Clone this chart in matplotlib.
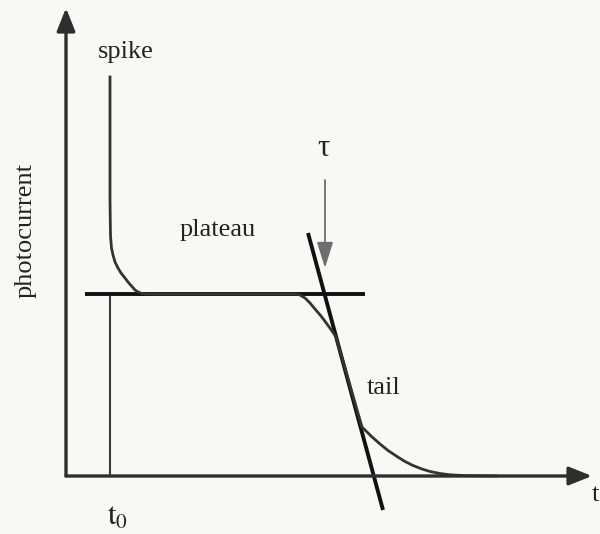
import matplotlib
matplotlib.use("Agg")
import matplotlib.pyplot as plt

plt.rcParams['font.family'] = ['Liberation Serif', 'DejaVu Serif']
plt.rcParams['mathtext.fontset'] = 'stix'

# photocurrent trace: spike at t0, plateau, knee, tail (time, current)
trace_t = [44, 44, 44.5, 45.5, 47, 49, 52, 55, 59, 62, 66, 69, 72, 76, 82,
           229, 234, 239, 244, 249, 255, 261, 266, 270,
           296, 305, 314, 322, 331, 339, 347, 356, 364, 374, 384, 400, 430]
trace_i = [399, 276, 240, 228, 221, 214, 208, 203, 198, 194, 189.5, 186, 184,
           182.5, 182,
           182, 181, 178, 173, 167, 160, 152, 145, 139,
           49, 40, 32, 25.5, 19.5, 14.5, 10.5, 7, 4.5, 2.5, 1.2, 0.3, 0]

t0 = 44
plateau_level = 182
plateau_span = [19, 299]

# tangent through the falling edge
tangent_t = [242, 317]
tangent_i = [243, -34]

# tau marker arrow (start, tip)
tau_t = [259, 259]
tau_i = [296, 208]

axis_len_t = 526
axis_len_i = 468

fig = plt.figure(figsize=(6, 5.34), dpi=100, facecolor='#f8f8f4')
ax = fig.add_axes([0, 0, 1, 1])
ax.set_facecolor('#f8f8f4')
ax.set_xlim(-66, 534)
ax.set_ylim(-58, 476)
ax.axis('off')

# axes with arrowheads
arrow_kw = dict(arrowstyle='-|>,head_length=0.7,head_width=0.28', lw=2.4,
                color='#2e2e2e', mutation_scale=20, shrinkA=0, shrinkB=0)
ax.annotate('', xy=(0, axis_len_i), xytext=(0, 0), arrowprops=arrow_kw)
ax.annotate('', xy=(axis_len_t, 0), xytext=(0, 0), arrowprops=arrow_kw)

# t0 marker
ax.plot([t0, t0], [0, plateau_level], color='#3a3a3a', lw=1.5)

# plateau and tangent lines
ax.plot(plateau_span, [plateau_level, plateau_level], color='#111111', lw=2.8,
        solid_capstyle='butt')
ax.plot(tangent_t, tangent_i, color='#111111', lw=2.8, solid_capstyle='butt')

# the trace itself
ax.plot(trace_t, trace_i, color='#333333', lw=2.0, solid_joinstyle='round')

# tau arrow
ax.annotate('', xy=(tau_t[1], tau_i[1]), xytext=(tau_t[0], tau_i[0]),
            arrowprops=dict(arrowstyle='-|>,head_length=0.8,head_width=0.25',
                            lw=1.3, color='#6e6e6e', mutation_scale=20,
                            shrinkA=0, shrinkB=0))

fs = 19
ax.text(60, 424, 'spike', fontsize=fs, ha='center', va='center', color='#222222')
ax.text(152, 246, 'plateau', fontsize=fs, ha='center', va='center', color='#222222')
ax.text(318, 88, 'tail', fontsize=fs, ha='center', va='center', color='#222222')
ax.text(257, 328, 'τ', fontsize=22, ha='center', va='center', color='#222222')
ax.text(-40, 246, 'photocurrent', fontsize=fs, rotation=90, ha='center',
        va='center', color='#222222')
ax.text(52, -41, r'$\mathrm{t}_0$', fontsize=22, ha='center', va='center',
        color='#222222')
ax.text(533, -8, 't', fontsize=fs, ha='right', va='top', color='#222222')

fig.savefig('out.png', dpi=100, facecolor=fig.get_facecolor())
